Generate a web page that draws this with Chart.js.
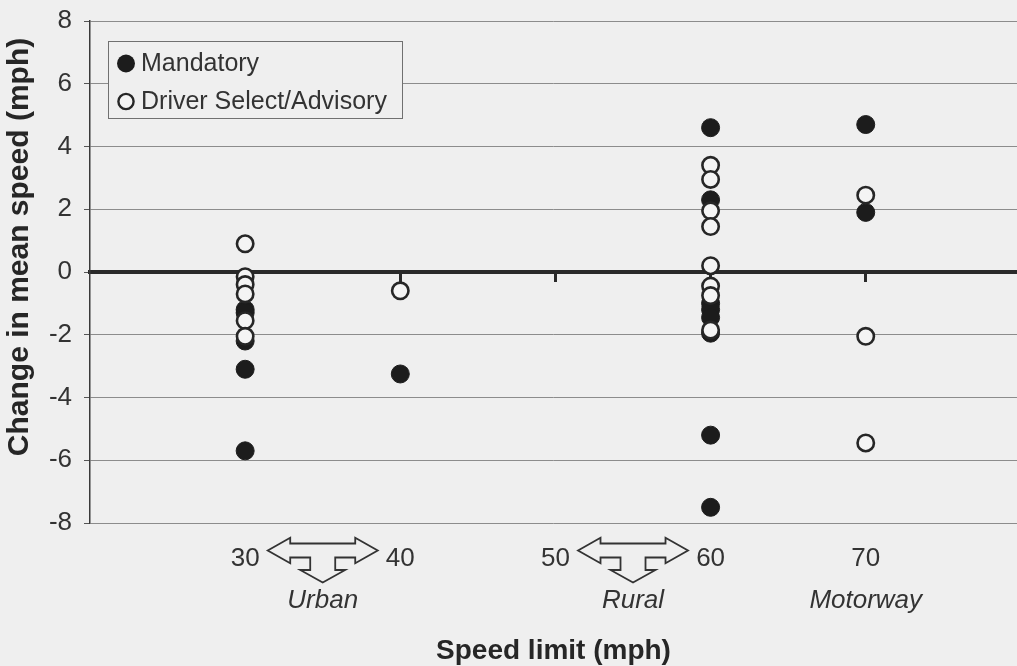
<!DOCTYPE html>
<html>
<head>
<meta charset="utf-8">
<script src="https://cdn.jsdelivr.net/npm/chart.js@4.4.1/dist/chart.umd.min.js"></script>
<style>
  html, body { margin: 0; padding: 0; background: #efefef; overflow: hidden; }
  canvas { display: block; }
</style>
</head>
<body>
<canvas id="c" width="1017" height="666"></canvas>
<script>
// ---------- data ----------
const seriesNames = ['Mandatory', 'Driver Select/Advisory'];
const mandatoryLimit  = [30, 30, 30, 30, 30, 40, 60, 60, 60, 60, 60, 60, 60, 60, 70, 70];
const mandatoryChange = [-1.2, -1.3, -2.2, -3.1, -5.7, -3.25, 4.6, 2.3, -1.0, -1.2, -1.45, -1.95, -5.2, -7.5, 4.7, 1.9];
const advisoryLimit   = [30, 30, 30, 30, 30, 30, 40, 60, 60, 60, 60, 60, 60, 60, 60, 70, 70, 70];
const advisoryChange  = [0.9, -0.15, -0.4, -0.7, -1.55, -2.05, -0.6, 3.4, 2.95, 1.95, 1.45, 0.2, -0.45, -0.75, -1.85, 2.45, -2.05, -5.45];
const speedTicks = [30, 40, 50, 60, 70];
const yTicks = [-8, -6, -4, -2, 0, 2, 4, 6, 8];
const groupNames = ['Urban', 'Rural', 'Motorway'];
const groupFrom  = [30, 50, 70];
const groupTo    = [40, 60, 70];
const xTitle = 'Speed limit (mph)';
const yTitle = 'Change in mean speed (mph)';

// ---------- styling ----------
const FONT = "'Liberation Sans', Arial, Helvetica, sans-serif";
const BG = '#efefef';
const INK = '#262626';
const TXT = '#333333';
const X_MIN = 20, X_MAX = 79.75;

const toPoints = (xs, ys) => xs.map((x, i) => ({ x: x, y: ys[i] }));
const noPad = (s) => { s.paddingLeft = 0; s.paddingRight = 0; s.paddingTop = 0; s.paddingBottom = 0; };

const legendBox = {
  id: 'legendBox',
  afterDraw(chart) {
    const { ctx, chartArea } = chart;
    const x0 = chartArea.left + 18, y0 = chartArea.top + 19.5, w = 294, h = 77;
    ctx.save();
    ctx.fillStyle = BG;
    ctx.fillRect(x0, y0, w, h);
    ctx.strokeStyle = '#707070';
    ctx.lineWidth = 1;
    ctx.strokeRect(Math.round(x0) + 0.5, Math.round(y0) + 0.5, w, h);
    ctx.font = '25px ' + FONT;
    ctx.textBaseline = 'middle';
    ctx.textAlign = 'left';
    chart.data.datasets.forEach((ds, i) => {
      const cy = y0 + 23 + i * 38;
      const cx = x0 + 18;
      ctx.beginPath();
      if (i === 0) {
        ctx.arc(cx, cy, 9, 0, Math.PI * 2);
        ctx.fillStyle = ds.backgroundColor;
        ctx.fill();
      } else {
        ctx.arc(cx, cy, 7.6, 0, Math.PI * 2);
        ctx.fillStyle = ds.backgroundColor;
        ctx.fill();
        ctx.lineWidth = 2.4;
        ctx.strokeStyle = ds.borderColor;
        ctx.stroke();
      }
      ctx.fillStyle = TXT;
      ctx.fillText(ds.label, x0 + 33, cy + 1);
    });
    ctx.restore();
  }
};

const groupArrows = {
  id: 'groupArrows',
  afterDraw(chart) {
    const { ctx, chartArea } = chart;
    const sc = chart.scales.xNum;
    ctx.save();
    ctx.strokeStyle = '#333';
    ctx.lineWidth = 1.8;
    ctx.lineJoin = 'miter';
    groupFrom.forEach((f, i) => {
      if (f === groupTo[i]) return;
      const cx = sc.getPixelForValue((f + groupTo[i]) / 2);
      const cy = chartArea.bottom + 27.5;
      const pts = [
        [-55, 0], [-32.5, -12.8], [-32.5, -7], [32.5, -7], [32.5, -12.8], [55, 0],
        [32.5, 12.8], [32.5, 7], [12.5, 7], [12.5, 19.5], [22.5, 19.5], [0, 32],
        [-22.5, 19.5], [-12.5, 19.5], [-12.5, 7], [-32.5, 7], [-32.5, 12.8]
      ];
      ctx.beginPath();
      pts.forEach((p, k) => {
        const px = cx + p[0], py = cy + p[1];
        if (k === 0) ctx.moveTo(px, py); else ctx.lineTo(px, py);
      });
      ctx.closePath();
      ctx.stroke();
    });
    ctx.restore();
  }
};

new Chart(document.getElementById('c'), {
  type: 'scatter',
  data: {
    datasets: [
      {
        label: seriesNames[0],
        data: toPoints(mandatoryLimit, mandatoryChange),
        backgroundColor: '#1c1c1c',
        borderColor: '#1c1c1c',
        borderWidth: 1,
        pointRadius: 9,
        pointHoverRadius: 9,
        order: 1
      },
      {
        label: seriesNames[1],
        data: toPoints(advisoryLimit, advisoryChange),
        backgroundColor: '#f4f4f4',
        borderColor: INK,
        borderWidth: 2.6,
        pointRadius: 8.2,
        pointHoverRadius: 8.2,
        order: 0
      }
    ]
  },
  options: {
    responsive: false,
    animation: false,
    events: [],
    layout: { autoPadding: false, padding: { top: 21, right: 0, bottom: 0, left: 0 } },
    plugins: {
      legend: { display: false },
      tooltip: { enabled: false }
    },
    scales: {
      x: {
        type: 'linear',
        min: X_MIN, max: X_MAX,
        position: { y: 0 },
        z: 1,
        afterBuildTicks: (s) => { s.ticks = speedTicks.map(v => ({ value: v })); },
        afterFit: noPad,
        ticks: { display: false },
        grid: { display: true, drawOnChartArea: false, drawTicks: true, tickLength: 8, tickWidth: 3, tickColor: '#2a2a2a' },
        border: { display: true, width: 4, color: '#2a2a2a' }
      },
      xNum: {
        type: 'linear',
        axis: 'x',
        min: X_MIN, max: X_MAX,
        position: 'bottom',
        weight: 1,
        afterBuildTicks: (s) => { s.ticks = speedTicks.map(v => ({ value: v })); },
        ticks: { font: { family: FONT, size: 26 }, color: TXT, padding: 20, maxRotation: 0, autoSkip: false },
        grid: { display: false, drawTicks: false, tickLength: 0 },
        border: { display: false },
        afterFit: (s) => { noPad(s); s.height = 50; }
      },
      xGroup: {
        type: 'linear',
        axis: 'x',
        min: X_MIN, max: X_MAX,
        position: 'bottom',
        weight: 2,
        afterBuildTicks: (s) => { s.ticks = groupFrom.map((f, i) => ({ value: (f + groupTo[i]) / 2 })); },
        ticks: {
          font: { family: FONT, size: 26, style: 'italic' }, color: TXT, padding: 12,
          maxRotation: 0, autoSkip: false,
          callback: (v, i) => groupNames[i]
        },
        title: {
          display: true, text: xTitle, color: INK,
          font: { family: FONT, size: 28, weight: 'bold' },
          padding: { top: 0, bottom: -2 }
        },
        grid: { display: false, drawTicks: false, tickLength: 0 },
        border: { display: false },
        afterFit: (s) => { noPad(s); s.height = 93; }
      },
      y: {
        type: 'linear',
        min: -8, max: 8,
        afterBuildTicks: (s) => { s.ticks = yTicks.map(v => ({ value: v })); },
        ticks: { font: { family: FONT, size: 26 }, color: TXT, padding: 12 },
        grid: { color: '#8c8c8c', lineWidth: 1, drawTicks: true, tickLength: 6, tickColor: '#555' },
        border: { display: true, color: '#3a3a3a', width: 1.5 },
        title: {
          display: true, text: '      ' + yTitle, color: INK,
          font: { family: FONT, size: 30, weight: 'bold' },
          padding: { top: 2, bottom: 0 }
        },
        afterFit: (s) => { noPad(s); s.width = 90; }
      }
    }
  },
  plugins: [legendBox, groupArrows]
});
</script>
</body>
</html>
